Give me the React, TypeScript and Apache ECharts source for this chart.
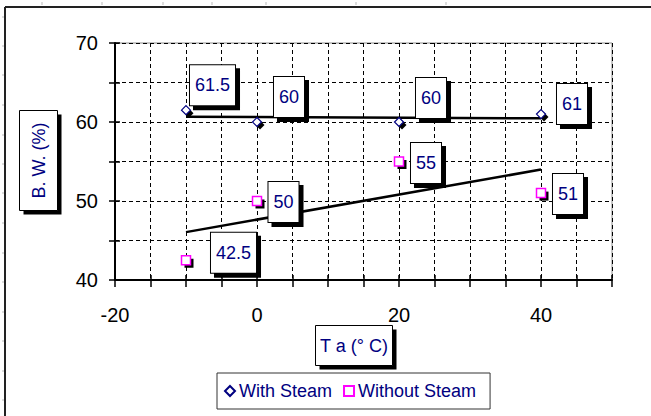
import React, { useEffect, useRef } from "react";
import * as echarts from "echarts";

// ---- data ----
const temperatures = [-10, 0, 20, 40];
const withSteam = [61.5, 60, 60, 61];
const withoutSteam = [42.5, 50, 55, 51];
const withSteamTrend = [
  [-10, 60.67],
  [40, 60.46],
];
const withoutSteamTrend = [
  [-10, 46.06],
  [40, 53.98],
];
const xTickLabels = [-20, 0, 20, 40];
const yTickLabels = [40, 50, 60, 70];
const seriesNames = ["With Steam", "Without Steam"];
const xTitle = "T a (° C)";
const yTitle = "B. W. (%)";

// ---- layout (label box offsets from their point, px) ----
const withSteamLabelOffsets = [
  [26.5, -25],
  [32, -25],
  [32, -24],
  [31, -10],
];
const withoutSteamLabelOffsets = [
  [47.5, -7.5],
  [26.5, 1],
  [27, 1.5],
  [27, 1],
];

const FONT = "'Liberation Sans', Arial, sans-serif";
const NAVY = "#000080";
const SHADOW = 4;
const MARK_SHADOW = 3;

const rulerTop = [42, 102, 163, 212, 266, 356, 446];
const rulerLeft = [17, 46, 75, 105, 135, 164, 193, 223, 253, 282, 312, 341, 371, 400];

// blank string with the same advance width as a number label (for the box shadow)
const blankLike = (s: string) =>
  s.replace(/[0-9]/g, "\u2007").replace(/\./g, "\u2008");

export default function App() {
  const ref = useRef<HTMLDivElement>(null);

  useEffect(() => {
    if (!ref.current) return;
    const chart = echarts.init(ref.current, undefined, { renderer: "svg" });

    const labelBox = (shadow: boolean) => ({
      show: true,
      position: "inside",
      fontFamily: FONT,
      fontSize: 18,
      lineHeight: 18,
      color: shadow ? "#000" : NAVY,
      backgroundColor: shadow ? "#000" : "#fff",
      borderColor: "#000",
      borderWidth: 1,
      padding: [11, 5, 11, 5],
    });

    const mkPoints = (vals: number[], offsets: number[][], shadow: boolean) =>
      vals.map((v, i) => ({
        value: [temperatures[i], v],
        label: {
          offset: shadow ? [offsets[i][0] + SHADOW, offsets[i][1] + SHADOW] : offsets[i],
          formatter: shadow ? blankLike(String(v)) : String(v),
        },
      }));

    const xBase = { type: "value", min: -20, max: 50, interval: 5 };
    const yBase = { type: "value", min: 40, max: 70, interval: 5 };

    const box = (x: number, y: number, w: number, h: number, z: number, shadow: boolean) => ({
      type: "rect",
      shape: { x: shadow ? x + SHADOW : x, y: shadow ? y + SHADOW : y, width: w, height: h },
      style: shadow ? { fill: "#000" } : { fill: "#fff", stroke: "#000", lineWidth: 1 },
      silent: true,
      z,
    });

    const graphics: any[] = [
      {
        type: "line",
        shape: { x1: 5, y1: 7, x2: 651, y2: 7 },
        style: { stroke: "#222", lineWidth: 2 },
        silent: true,
      },
      {
        type: "line",
        shape: { x1: 5, y1: 7, x2: 5, y2: 416 },
        style: { stroke: "#222", lineWidth: 2 },
        silent: true,
      },
      ...rulerTop.map((x) => ({
        type: "line",
        shape: { x1: x, y1: 2, x2: x, y2: 5 },
        style: { stroke: "#bbb", lineWidth: 1 },
        silent: true,
      })),
      ...rulerLeft.map((y) => ({
        type: "line",
        shape: { x1: 2, y1: y, x2: 4, y2: y },
        style: { stroke: "#bbb", lineWidth: 1 },
        silent: true,
      })),
      // x-axis title box
      box(315.5, 325.5, 77, 40, 8, true),
      box(315.5, 325.5, 77, 40, 9, false),
      {
        type: "text",
        x: 354,
        y: 346,
        style: {
          text: xTitle,
          fontFamily: FONT,
          fontSize: 18,
          fill: NAVY,
          align: "center",
          verticalAlign: "middle",
        },
        z: 10,
      },
      // y-axis title box
      box(19.5, 110.5, 38, 100, 8, true),
      box(19.5, 110.5, 38, 100, 9, false),
      {
        type: "text",
        x: 38.5,
        y: 160.5,
        rotation: Math.PI / 2,
        style: {
          text: yTitle,
          fontFamily: FONT,
          fontSize: 18,
          fill: NAVY,
          align: "center",
          verticalAlign: "middle",
        },
        z: 10,
      },
    ];

    chart.setOption({
      animation: false,
      backgroundColor: "#fff",
      grid: {
        left: 115,
        top: 43,
        right: 39,
        bottom: 136,
        show: true,
        borderColor: "#8c8c8c",
        borderWidth: 1,
        backgroundColor: "#fff",
      },
      legend: {
        left: 217,
        top: 373,
        orient: "horizontal",
        data: seriesNames,
        padding: [9, 14, 9, 7],
        itemGap: 11,
        itemWidth: 10,
        itemHeight: 10,
        borderColor: "#333",
        borderWidth: 1,
        backgroundColor: "#fff",
        textStyle: { fontFamily: FONT, fontSize: 18, color: NAVY, padding: [0, 0, 0, -1] },
      },
      xAxis: [
        {
          ...xBase,
          position: "bottom",
          axisLine: { show: true, onZero: false, lineStyle: { color: "#000", width: 2 } },
          axisTick: { show: true, inside: false, length: 7, lineStyle: { color: "#000", width: 1.5 } },
          axisLabel: {
            show: true,
            margin: 25,
            fontFamily: FONT,
            fontSize: 20,
            color: "#000",
            formatter: (v: number) => (xTickLabels.includes(v) ? String(v) : ""),
          },
          splitLine: { show: true, lineStyle: { color: "#000", type: [4, 3], width: 1 } },
        },
        {
          ...xBase,
          position: "bottom",
          axisLine: { show: false, onZero: false },
          axisTick: { show: true, inside: true, length: 5, lineStyle: { color: "#000", width: 1.5 } },
          axisLabel: { show: false },
          splitLine: { show: false },
        },
      ],
      yAxis: [
        {
          ...yBase,
          position: "left",
          axisLine: { show: true, onZero: false, lineStyle: { color: "#000", width: 2 } },
          axisTick: { show: true, inside: false, length: 6, lineStyle: { color: "#000", width: 1.5 } },
          axisLabel: {
            show: true,
            margin: 17,
            fontFamily: FONT,
            fontSize: 20,
            color: "#000",
            formatter: (v: number) => (yTickLabels.includes(v) ? String(v) : ""),
          },
          splitLine: { show: true, lineStyle: { color: "#000", type: [4, 3], width: 1 } },
        },
        {
          ...yBase,
          position: "left",
          axisLine: { show: false, onZero: false },
          axisTick: { show: true, inside: true, length: 5, lineStyle: { color: "#000", width: 1.5 } },
          axisLabel: { show: false },
          splitLine: { show: false },
        },
      ],
      series: [
        {
          name: "trend1",
          type: "line",
          data: withSteamTrend,
          symbol: "none",
          lineStyle: { color: "#000", width: 2.5 },
          silent: true,
          z: 2,
        },
        {
          name: "trend2",
          type: "line",
          data: withoutSteamTrend,
          symbol: "none",
          lineStyle: { color: "#000", width: 2.5 },
          silent: true,
          z: 2,
        },
        // shadows of the label boxes
        {
          name: "labelShadow1",
          type: "scatter",
          symbolSize: 1,
          itemStyle: { color: "transparent", opacity: 1 },
          data: mkPoints(withSteam, withSteamLabelOffsets, true),
          label: labelBox(true),
          silent: true,
          z: 3,
        },
        {
          name: "labelShadow2",
          type: "scatter",
          symbolSize: 1,
          itemStyle: { color: "transparent", opacity: 1 },
          data: mkPoints(withoutSteam, withoutSteamLabelOffsets, true),
          label: labelBox(true),
          silent: true,
          z: 3,
        },
        // shadows of the markers
        {
          name: "markerShadow1",
          type: "scatter",
          symbol: "diamond",
          symbolSize: 9,
          symbolOffset: [MARK_SHADOW, MARK_SHADOW],
          itemStyle: { color: "#000", opacity: 1 },
          data: withSteam.map((v, i) => [temperatures[i], v]),
          silent: true,
          z: 4,
        },
        {
          name: "markerShadow2",
          type: "scatter",
          symbol: "rect",
          symbolSize: 9,
          symbolOffset: [MARK_SHADOW, MARK_SHADOW],
          itemStyle: { color: "#000", opacity: 1 },
          data: withoutSteam.map((v, i) => [temperatures[i], v]),
          silent: true,
          z: 4,
        },
        {
          name: seriesNames[0],
          type: "scatter",
          symbol: "diamond",
          symbolSize: 9,
          data: mkPoints(withSteam, withSteamLabelOffsets, false),
          itemStyle: { color: "#fff", borderColor: NAVY, borderWidth: 1.2, opacity: 1 },
          label: labelBox(false),
          z: 5,
        },
        {
          name: seriesNames[1],
          type: "scatter",
          symbol: "rect",
          symbolSize: 9,
          data: mkPoints(withoutSteam, withoutSteamLabelOffsets, false),
          itemStyle: { color: "#fff", borderColor: "#ff00ff", borderWidth: 1.5, opacity: 1 },
          label: labelBox(false),
          z: 5,
        },
      ],
      graphic: graphics,
    });

    return () => chart.dispose();
  }, []);

  return (
    <div
      ref={ref}
      style={{ position: "fixed", left: 0, top: 0, width: 651, height: 416 }}
    />
  );
}
